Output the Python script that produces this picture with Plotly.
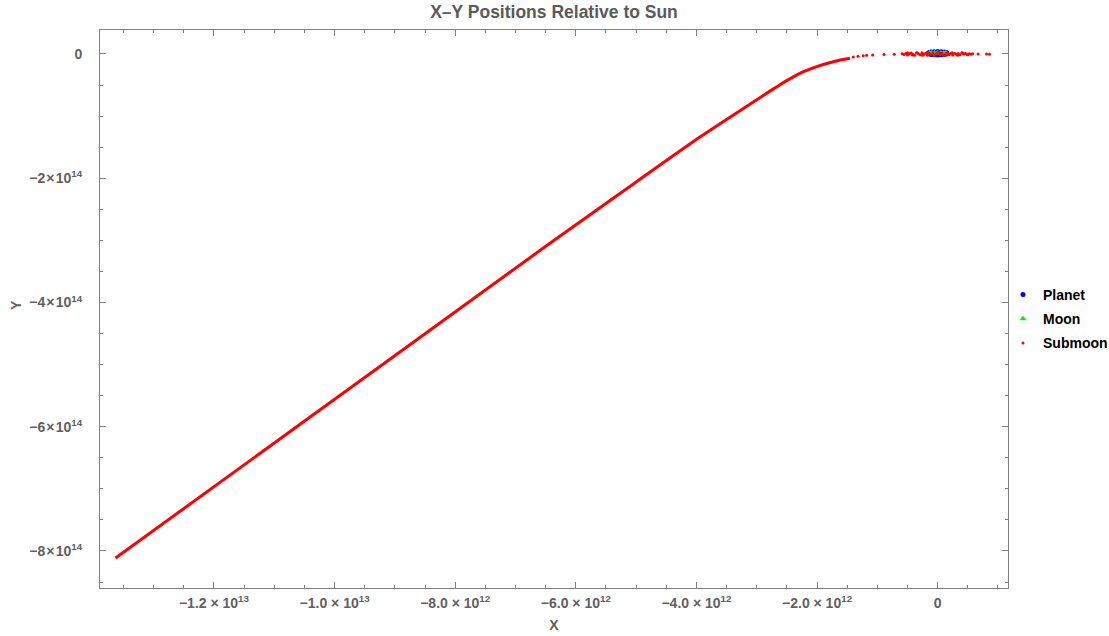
import plotly.graph_objects as go

# ---------------- data ----------------
# Planet orbit (blue)
planet_x = [1.55e11, 1.432e11, 1.096e11, 0.593e11, 0.0, -0.593e11, -1.096e11, -1.432e11,
            -1.55e11, -1.432e11, -1.096e11, -0.593e11, 0.0, 0.593e11, 1.096e11, 1.432e11]
planet_y = [1.2e12, 2.23e12, 3.11e12, 3.69e12, 3.9e12, 3.69e12, 3.11e12, 2.23e12,
            1.2e12, 0.17e12, -0.71e12, -1.29e12, -1.5e12, -1.29e12, -0.71e12, 0.17e12]

# Moon orbit (green)
moon_x = [1.4e11, 1.293e11, 0.99e11, 0.536e11, 0.0, -0.536e11, -0.99e11, -1.293e11,
          -1.4e11, -1.293e11, -0.99e11, -0.536e11, 0.0, 0.536e11, 0.99e11, 1.293e11]
moon_y = [1.2e12, 1.43e12, 1.62e12, 1.75e12, 1.8e12, 1.75e12, 1.62e12, 1.43e12,
          1.2e12, 0.97e12, 0.78e12, 0.65e12, 0.6e12, 0.65e12, 0.78e12, 0.97e12]

# Submoon escape trajectory (dense part, drawn as a continuous red trail)
traj_x = [-1.3632e13, -1.1e13, -8.5e12, -6.43e12, -5.0e12, -3.942e12, -3.527e12,
          -2.836e12, -2.561e12, -2.284e12, -2.007e12, -1.731e12, -1.454e12]
traj_y = [-8.113e14, -6.262e14, -4.503e14, -3.047e14, -2.06e14, -1.338e14, -1.07e14,
          -6.33e13, -4.62e13, -3.11e13, -2.04e13, -1.24e13, -6.9e12]

# Submoon sparse samples (trajectory tail and the cloud around the planet)
sub_x = [-1.40e12, -1.32e12, -1.234e12, -1.177e12, -1.078e12, -8.9e11, -7.2e11,
         -5.9e11, -5.6e11, -5.3e11, -5.0e11, -4.7e11, -4.4e11, -4.1e11, -3.8e11,
         -3.5e11, -3.2e11, -2.9e11, -2.6e11, -2.3e11, -2.0e11, -1.7e11, -1.4e11,
         -1.1e11, -0.8e11, -0.5e11, -0.2e11, 0.1e11, 0.4e11, 0.7e11, 1.0e11,
         1.3e11, 1.6e11, 1.9e11, 2.2e11, 2.5e11, 2.8e11, 3.1e11, 3.4e11, 3.7e11,
         4.0e11, 4.3e11, 4.6e11, 4.9e11, 5.2e11, 5.5e11, 5.8e11, 6.7e11, 8.1e11, 8.6e11,
         -5.0e11, -4.2e11, -3.4e11, -2.5e11, -1.6e11, -0.6e11, 0.5e11, 1.5e11,
         2.4e11, 3.3e11, 4.2e11, 5.0e11]
sub_y = [-5.0e12, -3.8e12, -2.7e12, -2.2e12, -1.6e12, -1.0e12, -0.5e12,
         0.3e12, -0.8e12, 0.9e12, -1.5e12, 0.2e12, 1.4e12, -0.6e12, -2.0e12,
         1.8e12, 0.5e12, -1.2e12, 2.1e12, -0.3e12, 1.0e12, -1.9e12, 0.7e12,
         -0.9e12, 1.6e12, -1.4e12, 0.4e12, 2.2e12, -0.7e12, 1.1e12, -2.2e12,
         0.0, 1.5e12, -1.1e12, 0.6e12, -1.6e12, 1.2e12, -0.4e12, 0.8e12, -1.3e12,
         1.9e12, -0.2e12, 0.9e12, -1.0e12, 0.3e12, -0.6e12, 0.4e12, -0.2e12, 0.1e12, -0.3e12,
         1.9e12, -1.8e12, 2.0e12, -2.1e12, 2.3e12, -2.3e12, 1.3e12, -1.7e12,
         2.0e12, -2.0e12, 1.6e12, -1.2e12]

# Axis ticks
x_tickvals = [-1.2e13, -1.0e13, -8.0e12, -6.0e12, -4.0e12, -2.0e12, 0]
x_ticktext = ["\u22121.2 \u00d7 10<sup>13</sup>", "\u22121.0 \u00d7 10<sup>13</sup>",
              "\u22128.0 \u00d7 10<sup>12</sup>", "\u22126.0 \u00d7 10<sup>12</sup>",
              "\u22124.0 \u00d7 10<sup>12</sup>", "\u22122.0 \u00d7 10<sup>12</sup>", "0"]
y_tickvals = [0, -2e14, -4e14, -6e14, -8e14]
y_ticktext = ["0", "\u22122\u200a\u00d7\u200a10<sup>14</sup>", "\u22124\u200a\u00d7\u200a10<sup>14</sup>",
              "\u22126\u200a\u00d7\u200a10<sup>14</sup>", "\u22128\u200a\u00d7\u200a10<sup>14</sup>"]

# ---------------- figure ----------------
FONT = "Liberation Sans, Arial, sans-serif"
GRAY = "#606060"
AXC = "#7f7f7f"

fig = go.Figure()
fig.add_trace(go.Scatter(x=planet_x, y=planet_y, mode="markers", name="<b>Planet</b>",
                         legendgroup="p",
                         marker=dict(color="#0000ff", size=5, symbol="circle")))
fig.add_trace(go.Scatter(x=moon_x, y=moon_y, mode="markers", name="<b>Moon</b>",
                         legendgroup="m",
                         marker=dict(color="#00ee00", size=6, symbol="triangle-up")))
fig.add_trace(go.Scatter(x=traj_x, y=traj_y, mode="lines", showlegend=False,
                         legendgroup="s",
                         line=dict(color="#ff0000", width=3, shape="spline", smoothing=1.0)))
fig.add_trace(go.Scatter(x=sub_x, y=sub_y, mode="markers", name="<b>Submoon</b>",
                         legendgroup="s",
                         marker=dict(color="#ff0000", size=3, symbol="circle")))

axis_common = dict(
    showline=True, linecolor=AXC, linewidth=1, mirror="ticks",
    ticks="inside", ticklen=6, tickcolor=AXC, tickwidth=1,
    showgrid=False, zeroline=False,
    tickfont=dict(family=FONT, size=14, color=GRAY, weight="bold"),
)

fig.update_xaxes(
    range=[-1.389e13, 1.166e12], tickmode="array",
    tickvals=x_tickvals, ticktext=x_ticktext,
    minor=dict(dtick=5e11, tick0=0, ticks="inside", ticklen=3, tickcolor=AXC),
    title=dict(text="<b>X</b>", font=dict(family=FONT, size=14, color=GRAY), standoff=10),
    ticklabelstandoff=2,
    **axis_common,
)
fig.update_yaxes(
    range=[-8.596e14, 3.86e13], tickmode="array",
    tickvals=y_tickvals, ticktext=y_ticktext,
    minor=dict(dtick=5e13, tick0=0, ticks="inside", ticklen=3, tickcolor=AXC),
    ticklabelstandoff=14,
    **axis_common,
)

fig.update_layout(
    width=1109, height=636,
    margin=dict(l=100, r=101, t=30, b=48, autoexpand=False),
    paper_bgcolor="white", plot_bgcolor="white",
    title=dict(text="<b>X\u2013Y Positions Relative to Sun</b>", x=0.5, xref="paper",
               xanchor="center", y=1 - 12 / 636, yref="container", yanchor="middle",
               font=dict(family=FONT, size=17.5, color="#5a5a5a")),
    legend=dict(x=(1003 - 100) / 908, xanchor="left", y=1 - (319 - 30) / 558,
                yanchor="middle",
                font=dict(family=FONT, size=14, color="black"),
                tracegroupgap=3, traceorder="grouped",
                bgcolor="rgba(0,0,0,0)"),
    annotations=[dict(text="<b>Y</b>", x=(16 - 100) / 908, y=1 - (305 - 30) / 558,
                      xref="paper", yref="paper", xanchor="center", yanchor="middle",
                      textangle=-90, showarrow=False,
                      font=dict(family=FONT, size=14, color=GRAY))],
    showlegend=True,
)

fig.write_html("out.html")
